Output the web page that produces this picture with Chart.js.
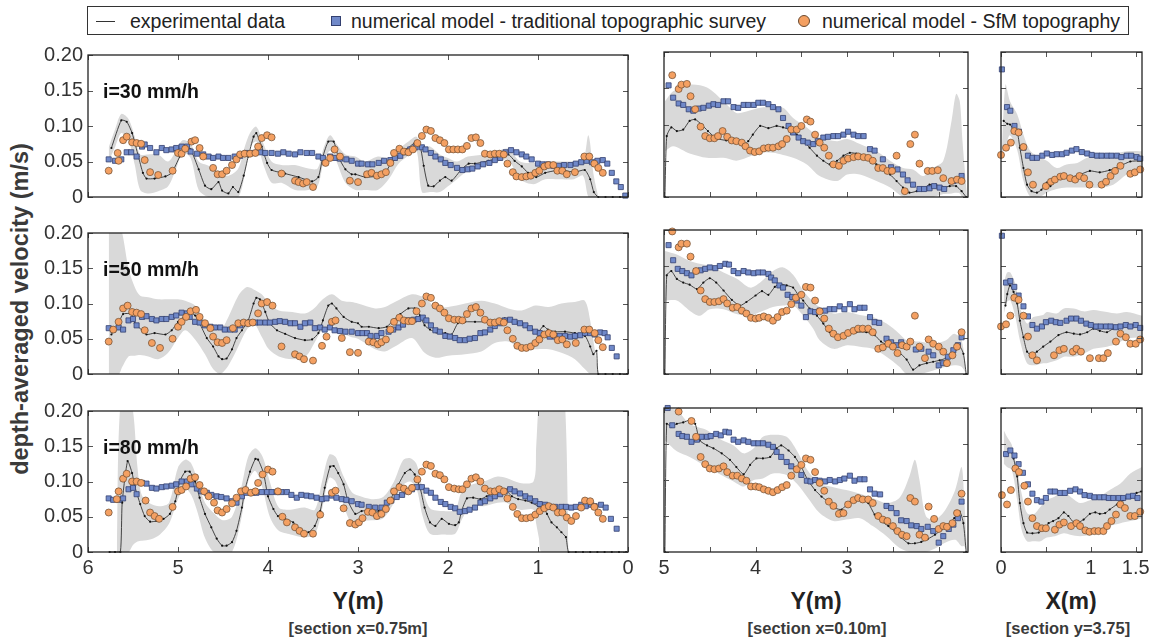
<!DOCTYPE html>
<html>
<head>
<meta charset="utf-8">
<script src="https://cdn.jsdelivr.net/npm/chart.js@4.4.1/dist/chart.umd.min.js"></script>
<style>
  body { margin: 0; background: #fff; }
  #wrap { position: relative; width: 1149px; height: 644px; overflow: hidden; font-family: "Liberation Sans", Arial, sans-serif; color: #222; }
  #legend { position: absolute; left: 87px; top: 6px; width: 1042px; height: 29px; border: 1px solid #333; box-sizing: border-box; }
  #legend span { position: absolute; top: 3px; font-size: 19.5px; line-height: 22px; white-space: nowrap; }
  .lg-line { position: absolute; left: 8px; top: 14px; width: 19px; height: 1px; background: #333; }
  .lg-sq { position: absolute; left: 243px; top: 9px; width: 8px; height: 8px; background: #7089c9; border: 1px solid #334070; }
  .lg-ci { position: absolute; left: 710px; top: 8px; width: 10px; height: 10px; border-radius: 50%; background: #f4a062; border: 1px solid #6a4a30; }
  .ylab { position: absolute; left: 20px; top: 309px; transform: translate(-50%, -50%) rotate(-90deg); font-weight: bold; font-size: 23.5px; white-space: nowrap; color: #3a3a3a; }
  .xt { position: absolute; transform: translateX(-50%); font-weight: bold; white-space: nowrap; }
  .xt.big { font-size: 23px; top: 588px; color: #222; }
  .xt.small { font-size: 16.5px; top: 619px; color: #3a3a3a; }
</style>
</head>
<body>
<div id="wrap">
  <div id="legend">
    <div class="lg-line"></div><span style="left:42px">experimental data</span>
    <div class="lg-sq"></div><span style="left:263px">numerical model - traditional topographic survey</span>
    <div class="lg-ci"></div><span style="left:734px">numerical model - SfM topography</span>
  </div>
  <div class="ylab">depth-averaged velocity (m/s)</div>
  <div class="xt big" style="left:358px">Y(m)</div>
  <div class="xt small" style="left:358px">[section x=0.75m]</div>
  <div class="xt big" style="left:816px">Y(m)</div>
  <div class="xt small" style="left:817px">[section x=0.10m]</div>
  <div class="xt big" style="left:1071px">X(m)</div>
  <div class="xt small" style="left:1068px">[section y=3.75]</div>
</div>
<script>
// tick values
const yTicks = [0, 0.05, 0.1, 0.15, 0.2];
const xTicksX075 = [0, 1, 2, 3, 4, 5, 6];
const xTicksX010 = [2, 2.5, 3, 3.5, 4, 4.5, 5];
const xTicksY375 = [0, 0.5, 1, 1.5];

// ---- i = 30 mm/h ----
const exp30_x075 = [[5.74,.069],[5.63,.108],[5.57,.106],[5.51,.09],[5.44,.057],[5.39,.034],[5.35,.026],[5.26,.026],[5.14,.029],[5.07,.034],[4.98,.057],[4.92,.071],[4.86,.067],[4.77,.039],[4.70,.016],[4.63,.011],[4.55,.021],[4.51,.009],[4.44,.005],[4.39,.014],[4.33,.007],[4.27,.03],[4.22,.057],[4.16,.085],[4.13,.09],[4.07,.071],[4.01,.048],[3.96,.038],[3.81,.033],[3.66,.028],[3.51,.022],[3.44,.028],[3.39,.057],[3.33,.078],[3.27,.078],[3.22,.057],[3.14,.039],[3.07,.032],[3.03,.032],[2.92,.028],[2.81,.029],[2.70,.034],[2.63,.048],[2.55,.057],[2.46,.067],[2.37,.076],[2.31,.071],[2.27,.044],[2.22,.016],[2.16,.015],[2.09,.023],[2.03,.028],[1.96,.023],[1.85,.039],[1.77,.047],[1.70,.047],[1.55,.051],[1.40,.057],[1.33,.06],[1.26,.051],[1.18,.043],[1.11,.034],[1.02,.028],[0.92,.034],[0.81,.037],[0.70,.037],[0.59,.035],[0.48,.038],[0.42,.025],[0.38,.007],[0.33,0],[0.25,0],[0.17,0],[0.09,0],[0.01,0]];
const band30_x075 = [[5.77,.05,.07],[5.7,.07,.095],[5.63,.09,.117],[5.55,.08,.11],[5.48,.045,.085],[5.42,.01,.06],[5.33,.005,.06],[5.22,.008,.06],[5.11,.015,.05],[5.02,.04,.065],[4.95,.062,.08],[4.86,.055,.075],[4.77,.01,.05],[4.66,0,.044],[4.55,0,.035],[4.44,0,.03],[4.33,0,.04],[4.26,.03,.07],[4.2,.07,.09],[4.13,.078,.099],[4.05,.045,.075],[3.96,.02,.05],[3.85,.02,.045],[3.7,.01,.045],[3.55,.01,.04],[3.45,.015,.04],[3.38,.05,.07],[3.31,.065,.087],[3.24,.05,.075],[3.14,.02,.06],[3.03,.01,.057],[2.92,.01,.05],[2.78,.01,.057],[2.66,.025,.055],[2.55,.047,.067],[2.44,.058,.078],[2.35,.065,.085],[2.29,.007,.071],[2.2,.007,.071],[2.09,.007,.06],[2.0,.015,.055],[1.9,.025,.05],[1.78,.037,.057],[1.6,.043,.06],[1.45,.05,.065],[1.33,.052,.068],[1.2,.025,.05],[1.05,.018,.048],[0.92,.025,.05],[0.75,.025,.05],[0.6,.025,.05],[0.5,.03,.05],[0.44,0,.087],[0.38,0,.03],[0.33,0,0]];
const trad30_x075 = [[5.77,.053],[5.70,.051],[5.63,.053],[5.57,.063],[5.52,.063],[5.46,.057],[5.40,.071],[5.37,.074],[5.31,.069],[5.24,.063],[5.18,.069],[5.13,.066],[5.07,.067],[5.02,.069],[4.96,.071],[4.90,.071],[4.86,.064],[4.79,.061],[4.72,.060],[4.66,.057],[4.61,.055],[4.55,.057],[4.50,.055],[4.44,.055],[4.37,.057],[4.31,.058],[4.24,.062],[4.16,.062],[4.09,.063],[4.03,.062],[3.96,.062],[3.89,.061],[3.83,.063],[3.77,.061],[3.70,.060],[3.64,.063],[3.57,.062],[3.51,.062],[3.44,.057],[3.39,.055],[3.31,.057],[3.26,.055],[3.20,.054],[3.13,.053],[3.07,.051],[3.0,.047],[2.96,.047],[2.89,.046],[2.84,.046],[2.77,.048],[2.71,.051],[2.64,.052],[2.59,.055],[2.53,.058],[2.48,.063],[2.42,.067],[2.36,.070],[2.29,.070],[2.25,.067],[2.19,.062],[2.14,.057],[2.08,.053],[2.03,.048],[1.97,.045],[1.90,.041],[1.84,.038],[1.78,.039],[1.73,.040],[1.67,.043],[1.61,.046],[1.54,.048],[1.48,.052],[1.42,.055],[1.36,.063],[1.30,.066],[1.24,.063],[1.18,.060],[1.13,.057],[1.07,.053],[1.0,.047],[0.95,.046],[0.89,.046],[0.83,.044],[0.77,.044],[0.71,.045],[0.64,.045],[0.58,.047],[0.52,.049],[0.46,.051],[0.40,.049],[0.34,.051],[0.28,.052],[0.23,.047],[0.18,.034],[0.13,.022],[0.08,.014],[0.03,.002]];
const sfm30_x075 = [[5.77,.037],[5.67,.062],[5.66,.051],[5.61,.080],[5.57,.085],[5.51,.077],[5.46,.076],[5.41,.075],[5.37,.052],[5.31,.035],[5.22,.031],[5.06,.037],[5.0,.062],[4.96,.061],[4.92,.068],[4.85,.078],[4.81,.080],[4.76,.069],[4.72,.057],[4.61,.041],[4.56,.032],[4.51,.032],[4.46,.037],[4.40,.045],[4.35,.053],[4.31,.060],[4.26,.061],[4.20,.061],[4.14,.062],[4.11,.071],[4.07,.083],[4.01,.087],[3.96,.084],[3.85,.033],[3.70,.023],[3.66,.021],[3.61,.019],[3.57,.021],[3.50,.014],[3.36,.048],[3.31,.055],[3.26,.067],[3.20,.057],[3.09,.023],[3.0,.021],[2.90,.032],[2.85,.034],[2.79,.030],[2.74,.032],[2.69,.035],[2.64,.048],[2.60,.062],[2.54,.068],[2.49,.064],[2.44,.063],[2.39,.067],[2.34,.076],[2.29,.086],[2.24,.095],[2.19,.093],[2.14,.083],[2.09,.080],[2.04,.076],[1.99,.067],[1.94,.067],[1.89,.067],[1.84,.067],[1.79,.072],[1.74,.083],[1.69,.084],[1.64,.076],[1.59,.061],[1.53,.060],[1.48,.061],[1.43,.061],[1.38,.060],[1.34,.047],[1.28,.035],[1.24,.029],[1.18,.028],[1.13,.029],[1.08,.030],[1.03,.034],[0.985,.037],[0.93,.043],[0.885,.045],[0.83,.045],[0.785,.037],[0.73,.037],[0.68,.032],[0.59,.035],[0.485,.057],[0.43,.057],[0.374,.047],[0.33,.041],[0.28,.034]];

const exp30_x010 = [[4.99,0],[4.97,.084],[4.92,.096],[4.86,.091],[4.79,.093],[4.72,.105],[4.66,.107],[4.59,.1],[4.52,.091],[4.43,.081],[4.32,.078],[4.21,.077],[4.13,.072],[4.08,.077],[4.03,.086],[3.95,.098],[3.86,.095],[3.77,.098],[3.70,.096],[3.63,.093],[3.55,.086],[3.48,.078],[3.41,.068],[3.33,.057],[3.26,.05],[3.19,.045],[3.11,.05],[3.04,.057],[2.97,.061],[2.90,.06],[2.82,.057],[2.75,.05],[2.68,.045],[2.61,.04],[2.53,.031],[2.46,.022],[2.39,.013],[2.32,.006],[2.24,.008],[2.17,.011],[2.1,.017],[2.03,.017],[1.95,.013],[1.88,.015],[1.81,.015],[1.75,.008],[1.70,0]];
const band30_x010 = [[4.99,.063,.132],[4.90,.07,.146],[4.72,.06,.155],[4.53,.054,.151],[4.35,.054,.132],[4.21,.05,.116],[4.10,.054,.118],[3.95,.061,.123],[3.81,.061,.124],[3.70,.058,.123],[3.59,.054,.109],[3.44,.045,.096],[3.30,.029,.082],[3.11,.022,.077],[3.0,.031,.08],[2.86,.031,.073],[2.68,.022,.063],[2.53,.013,.05],[2.39,0,.04],[2.28,0,.038],[2.17,0,.029],[2.06,0,.04],[1.95,.004,.05],[1.86,.005,.105],[1.81,.006,.142],[1.77,.005,.132],[1.74,0,.077],[1.69,0,0]];
const trad30_x010 = [[4.95,.154],[4.9,.137],[4.84,.129],[4.79,.127],[4.73,.121],[4.68,.119],[4.62,.122],[4.57,.123],[4.51,.126],[4.46,.128],[4.41,.127],[4.35,.132],[4.30,.132],[4.24,.124],[4.19,.123],[4.13,.127],[4.08,.127],[4.02,.127],[3.97,.13],[3.92,.13],[3.86,.128],[3.81,.124],[3.75,.121],[3.70,.109],[3.64,.098],[3.59,.089],[3.53,.082],[3.48,.077],[3.43,.075],[3.37,.073],[3.32,.077],[3.26,.082],[3.21,.083],[3.15,.084],[3.10,.084],[3.04,.086],[2.99,.09],[2.93,.086],[2.88,.084],[2.82,.084],[2.75,.066],[2.70,.064],[2.61,.052],[2.52,.041],[2.45,.038],[2.39,.031],[2.34,.023],[2.28,.017],[2.21,.011],[2.16,.011],[2.10,.012],[2.05,.015],[1.99,.013],[1.94,.011],[1.84,.022],[1.75,.029]];
const sfm30_x010 = [[4.91,.168],[4.84,.149],[4.81,.155],[4.75,.156],[4.71,.139],[4.66,.121],[4.6,.097],[4.55,.084],[4.5,.081],[4.45,.081],[4.41,.084],[4.36,.091],[4.31,.083],[4.26,.078],[4.21,.077],[4.15,.075],[4.11,.07],[4.06,.064],[4.01,.062],[3.96,.063],[3.91,.067],[3.86,.068],[3.81,.068],[3.75,.07],[3.71,.073],[3.66,.08],[3.61,.093],[3.55,.093],[3.5,.098],[3.44,.107],[3.4,.104],[3.35,.086],[3.3,.075],[3.25,.068],[3.2,.057],[3.15,.045],[3.09,.043],[3.04,.05],[2.99,.053],[2.93,.055],[2.88,.056],[2.82,.055],[2.77,.054],[2.72,.05],[2.66,.04],[2.61,.04],[2.56,.036],[2.51,.036],[2.46,.057],[2.37,.008],[2.31,.073],[2.26,.086],[2.21,.046],[2.12,.036],[2.07,.036],[2.01,.037],[1.95,.026],[1.86,.022],[1.8,.024],[1.75,.022]];

const exp30_y375 = [[0.03,.105],[0.07,.101],[0.1,.1],[0.14,.093],[0.18,.09],[0.21,.068],[0.25,.04],[0.29,.017],[0.34,.008],[0.4,.006],[0.45,.01],[0.51,.02],[0.55,.015],[0.66,.027],[0.77,.027],[0.88,.031],[0.99,.036],[1.1,.034],[1.21,.037],[1.33,.043],[1.44,.049],[1.55,.05]];
const band30_y375 = [[0.01,.06,.063],[0.05,.07,.155],[0.1,.085,.132],[0.18,.065,.114],[0.25,.022,.086],[0.33,0,.063],[0.44,.001,.054],[0.51,.006,.05],[0.62,.011,.04],[0.73,.013,.045],[0.85,.013,.047],[0.96,.013,.054],[1.11,.013,.056],[1.25,.017,.059],[1.4,.031,.063],[1.57,.04,.063]];
const trad30_y375 = [[0.01,.176],[0.067,.124],[0.104,.119],[0.15,.098],[0.2,.09],[0.25,.068],[0.3,.057],[0.35,.054],[0.4,.054],[0.46,.057],[0.51,.06],[0.57,.058],[0.62,.059],[0.68,.059],[0.73,.061],[0.79,.064],[0.84,.066],[0.9,.062],[0.96,.06],[1.01,.058],[1.07,.057],[1.12,.057],[1.18,.057],[1.23,.057],[1.29,.057],[1.34,.055],[1.4,.057],[1.45,.057],[1.51,.055],[1.55,.053]];
const sfm30_y375 = [[0.0,.058],[0.056,.068],[0.11,.075],[0.148,.091],[0.196,.089],[0.25,.069],[0.3,.034],[0.356,.017],[0.5,.015],[0.556,.021],[0.6,.024],[0.66,.028],[0.7,.029],[0.77,.026],[0.826,.024],[0.874,.029],[0.926,.026],[0.985,.017],[1.12,.017],[1.17,.021],[1.22,.029],[1.27,.036],[1.33,.043],[1.44,.032],[1.49,.034],[1.55,.038]];

// ---- i = 50 mm/h ----
const exp50_x075 = [[5.74,.056],[5.66,.072],[5.61,.085],[5.52,.085],[5.48,.072],[5.40,.062],[5.35,.056],[5.26,.058],[5.14,.056],[5.07,.062],[5.0,.074],[4.92,.083],[4.86,.087],[4.81,.083],[4.76,.072],[4.68,.051],[4.61,.039],[4.55,.025],[4.51,.021],[4.46,.022],[4.40,.035],[4.35,.051],[4.29,.062],[4.22,.076],[4.16,.1],[4.13,.108],[4.09,.106],[4.03,.088],[3.98,.072],[3.90,.062],[3.81,.057],[3.70,.051],[3.59,.048],[3.51,.049],[3.44,.058],[3.39,.076],[3.33,.097],[3.29,.1],[3.24,.093],[3.16,.081],[3.07,.074],[3.0,.072],[2.96,.067],[2.88,.067],[2.77,.065],[2.68,.067],[2.61,.076],[2.53,.085],[2.44,.093],[2.37,.093],[2.31,.083],[2.26,.069],[2.20,.063],[2.13,.059],[2.03,.058],[1.96,.056],[1.89,.072],[1.81,.074],[1.70,.074],[1.59,.074],[1.48,.074],[1.37,.079],[1.29,.076],[1.22,.072],[1.14,.067],[1.07,.063],[0.997,.06],[0.94,.068],[0.89,.063],[0.81,.06],[0.70,.06],[0.59,.058],[0.478,.054],[0.42,.039],[0.385,.028],[0.35,.033],[0.33,0],[0.25,0],[0.17,0],[0.09,0],[0.01,0]];
const band50_x075 = [[5.77,0,.21],[5.66,0,.21],[5.62,.01,.2],[5.55,.025,.15],[5.48,.026,.123],[5.42,.027,.111],[5.33,.025,.109],[5.22,.021,.106],[5.11,.03,.106],[5.0,.051,.106],[4.92,.062,.104],[4.81,.049,.097],[4.70,.028,.076],[4.61,.007,.069],[4.53,0,.062],[4.44,.012,.081],[4.33,.039,.111],[4.24,.062,.123],[4.16,.072,.12],[4.07,.053,.113],[3.99,.035,.1],[3.88,.025,.09],[3.73,.021,.088],[3.58,.025,.086],[3.48,.045,.094],[3.40,.062,.105],[3.29,.069,.113],[3.18,.058,.104],[3.07,.052,.102],[3.0,.05,.1],[2.81,.035,.093],[2.70,.032,.095],[2.59,.039,.102],[2.40,.051,.113],[2.26,.03,.108],[2.14,.023,.095],[2.0,.026,.095],[1.81,.028,.1],[1.63,.032,.104],[1.48,.044,.1],[1.33,.046,.093],[1.18,.035,.09],[1.03,.035,.097],[0.88,.035,.095],[0.74,.03,.1],[0.59,.021,.102],[0.48,.007,.104],[0.42,0,.076],[0.37,0,.035],[0.33,0,0]];
const trad50_x075 = [[5.77,.065],[5.72,.063],[5.66,.066],[5.61,.063],[5.55,.076],[5.50,.078],[5.46,.069],[5.40,.081],[5.35,.082],[5.29,.078],[5.24,.076],[5.18,.078],[5.13,.078],[5.07,.081],[5.02,.083],[4.96,.087],[4.90,.086],[4.87,.081],[4.81,.074],[4.76,.073],[4.70,.069],[4.64,.067],[4.59,.066],[4.53,.066],[4.48,.063],[4.42,.063],[4.37,.063],[4.31,.069],[4.26,.072],[4.20,.073],[4.14,.073],[4.09,.073],[4.03,.073],[3.98,.073],[3.92,.074],[3.87,.075],[3.81,.074],[3.75,.072],[3.70,.072],[3.64,.067],[3.59,.072],[3.53,.073],[3.48,.065],[3.42,.066],[3.37,.063],[3.31,.066],[3.26,.062],[3.20,.061],[3.14,.06],[3.07,.06],[3.0,.058],[2.95,.058],[2.90,.058],[2.86,.054],[2.79,.054],[2.74,.058],[2.66,.06],[2.61,.063],[2.55,.066],[2.50,.07],[2.44,.076],[2.38,.077],[2.33,.078],[2.28,.080],[2.24,.076],[2.19,.069],[2.14,.062],[2.09,.06],[2.03,.054],[1.98,.053],[1.92,.051],[1.87,.048],[1.81,.048],[1.76,.05],[1.70,.051],[1.64,.058],[1.59,.059],[1.53,.063],[1.48,.068],[1.42,.072],[1.37,.076],[1.31,.077],[1.26,.074],[1.20,.072],[1.14,.069],[1.09,.065],[1.03,.06],[0.98,.058],[0.92,.056],[0.87,.053],[0.81,.053],[0.76,.054],[0.70,.054],[0.64,.053],[0.59,.054],[0.53,.055],[0.478,.058],[0.42,.058],[0.37,.056],[0.31,.059],[0.26,.058],[0.226,.052],[0.18,.037],[0.126,.025]];
const sfm50_x075 = [[5.77,.046],[5.72,.063],[5.66,.074],[5.61,.093],[5.56,.097],[5.51,.088],[5.46,.087],[5.41,.085],[5.37,.062],[5.29,.044],[5.2,.037],[5.06,.05],[5.0,.067],[4.96,.074],[4.91,.081],[4.86,.089],[4.80,.091],[4.76,.081],[4.7,.072],[4.64,.065],[4.61,.053],[4.56,.045],[4.51,.044],[4.46,.048],[4.39,.065],[4.33,.072],[4.27,.073],[4.22,.072],[4.17,.073],[4.11,.086],[4.07,.1],[4.01,.102],[3.95,.097],[3.85,.039],[3.70,.028],[3.65,.025],[3.60,.021],[3.5,.019],[3.40,.04],[3.35,.053],[3.29,.074],[3.25,.076],[3.18,.051],[3.09,.031],[3.0,.03],[2.88,.046],[2.83,.045],[2.78,.042],[2.74,.045],[2.69,.049],[2.64,.063],[2.6,.074],[2.54,.08],[2.49,.076],[2.44,.075],[2.4,.075],[2.35,.089],[2.29,.1],[2.24,.11],[2.19,.108],[2.14,.097],[2.09,.093],[2.04,.087],[1.99,.079],[1.93,.077],[1.88,.077],[1.84,.076],[1.79,.085],[1.74,.093],[1.69,.095],[1.64,.087],[1.59,.077],[1.53,.073],[1.48,.073],[1.43,.075],[1.38,.073],[1.34,.062],[1.28,.05],[1.23,.04],[1.18,.037],[1.13,.037],[1.08,.039],[1.03,.044],[0.985,.049],[0.93,.056],[0.88,.058],[0.83,.056],[0.78,.048],[0.73,.049],[0.68,.042],[0.58,.044],[0.485,.063],[0.43,.063],[0.37,.058],[0.33,.048],[0.28,.038]];

const exp50_x010 = [[4.99,0],[4.97,.137],[4.92,.143],[4.86,.132],[4.79,.127],[4.72,.124],[4.64,.118],[4.57,.127],[4.5,.133],[4.43,.127],[4.35,.116],[4.26,.103],[4.17,.095],[4.1,.1],[4.0,.109],[3.93,.115],[3.86,.11],[3.79,.121],[3.74,.125],[3.66,.123],[3.59,.12],[3.53,.109],[3.48,.102],[3.41,.091],[3.33,.081],[3.26,.07],[3.19,.058],[3.1,.051],[3.0,.056],[2.9,.058],[2.79,.058],[2.7,.054],[2.63,.045],[2.53,.038],[2.44,.031],[2.35,.02],[2.28,.006],[2.21,.012],[2.13,.015],[2.06,.017],[1.99,.019],[1.92,.022],[1.84,.028],[1.77,.038],[1.73,.028],[1.70,0]];
const band50_x010 = [[4.99,.102,.171],[4.86,.102,.166],[4.72,.088,.157],[4.61,.081,.153],[4.50,.09,.15],[4.35,.09,.141],[4.2,.083,.132],[4.06,.081,.12],[3.95,.086,.127],[3.81,.093,.143],[3.70,.095,.148],[3.59,.095,.138],[3.48,.081,.116],[3.37,.063,.1],[3.3,.047,.093],[3.15,.035,.084],[3.0,.04,.086],[2.86,.038,.082],[2.72,.035,.079],[2.57,.024,.07],[2.43,.01,.056],[2.35,0,.047],[2.21,0,.045],[2.06,.005,.042],[1.92,.01,.047],[1.83,.012,.056],[1.75,.01,.047],[1.7,0,0]];
const trad50_x010 = [[4.95,.179],[4.9,.158],[4.85,.146],[4.8,.143],[4.75,.14],[4.7,.137],[4.65,.143],[4.6,.144],[4.55,.146],[4.5,.148],[4.44,.147],[4.39,.15],[4.33,.153],[4.29,.152],[4.24,.143],[4.19,.14],[4.13,.143],[4.08,.141],[4.02,.14],[3.97,.141],[3.92,.141],[3.86,.139],[3.83,.134],[3.79,.13],[3.74,.123],[3.7,.12],[3.65,.11],[3.6,.107],[3.55,.102],[3.5,.095],[3.45,.079],[3.4,.087],[3.35,.086],[3.3,.088],[3.24,.088],[3.19,.09],[3.14,.09],[3.08,.094],[3.03,.09],[2.97,.097],[2.92,.09],[2.86,.092],[2.81,.092],[2.75,.079],[2.7,.072],[2.65,.071],[2.57,.049],[2.52,.044],[2.46,.04],[2.41,.044],[2.35,.038],[2.25,.034],[2.19,.035],[2.11,.031],[2.06,.026],[2.0,.012],[1.95,.015],[1.9,.024],[1.84,.033],[1.79,.04],[1.75,.051]];
const sfm50_x010 = [[4.91,.198],[4.84,.176],[4.81,.181],[4.75,.181],[4.71,.163],[4.65,.143],[4.6,.116],[4.55,.104],[4.5,.1],[4.45,.1],[4.4,.101],[4.35,.104],[4.31,.098],[4.25,.092],[4.2,.093],[4.15,.088],[4.1,.084],[4.05,.078],[4.0,.077],[3.96,.078],[3.91,.08],[3.86,.078],[3.81,.074],[3.76,.079],[3.71,.086],[3.66,.088],[3.61,.097],[3.56,.106],[3.5,.11],[3.45,.121],[3.4,.12],[3.35,.102],[3.3,.087],[3.25,.077],[3.2,.063],[3.15,.056],[3.1,.051],[3.04,.053],[2.99,.057],[2.93,.06],[2.88,.063],[2.83,.063],[2.77,.063],[2.72,.058],[2.66,.035],[2.61,.037],[2.55,.042],[2.5,.038],[2.45,.029],[2.4,.04],[2.35,.038],[2.31,.045],[2.26,.081],[2.21,.038],[2.15,.022],[2.11,.048],[2.06,.042],[2.0,.038],[1.95,.031],[1.91,.015],[1.85,.026],[1.8,.038],[1.75,.058]];

const exp50_y375 = [[0.05,.095],[0.07,.111],[0.1,.123],[0.14,.114],[0.18,.098],[0.21,.074],[0.25,.051],[0.29,.031],[0.34,.026],[0.4,.031],[0.47,.038],[0.55,.045],[0.64,.054],[0.73,.058],[0.81,.056],[0.88,.055],[0.96,.058],[1.03,.063],[1.1,.06],[1.18,.058],[1.25,.063],[1.33,.065],[1.4,.066],[1.47,.068],[1.55,.065]];
const band50_y375 = [[0.03,.083,.125],[0.067,.1,.141],[0.104,.102,.141],[0.16,.079,.125],[0.21,.047,.093],[0.29,.015,.07],[0.36,.012,.079],[0.47,.015,.082],[0.51,.015,.086],[0.62,.019,.084],[0.7,.024,.091],[0.81,.024,.091],[0.92,.028,.087],[1.03,.035,.089],[1.18,.038,.086],[1.29,.042,.084],[1.4,.049,.086],[1.57,.051,.081]];
const trad50_y375 = [[0.01,.192],[0.056,.127],[0.104,.129],[0.148,.121],[0.196,.109],[0.25,.094],[0.3,.08],[0.35,.068],[0.4,.063],[0.456,.066],[0.5,.072],[0.56,.074],[0.61,.072],[0.66,.071],[0.73,.074],[0.78,.077],[0.84,.077],[0.89,.074],[0.95,.07],[1.0,.068],[1.06,.066],[1.11,.066],[1.17,.066],[1.22,.066],[1.28,.065],[1.33,.066],[1.39,.068],[1.44,.066],[1.5,.068],[1.55,.064]];
const sfm50_y375 = [[0.0,.066],[0.056,.069],[0.104,.081],[0.148,.106],[0.196,.103],[0.25,.081],[0.3,.052],[0.35,.026],[0.4,.019],[0.59,.026],[0.65,.033],[0.7,.035],[0.8,.031],[0.84,.035],[0.89,.031],[0.99,.022],[1.09,.022],[1.14,.022],[1.19,.029],[1.28,.045],[1.33,.056],[1.39,.051],[1.44,.042],[1.5,.042],[1.55,.048]];

// ---- i = 80 mm/h ----
const exp80_x075 = [[5.76,0],[5.70,0],[5.64,0],[5.62,.07],[5.56,.129],[5.51,.112],[5.48,.093],[5.42,.068],[5.37,.051],[5.31,.043],[5.24,.044],[5.16,.047],[5.09,.054],[5.03,.072],[4.98,.1],[4.92,.114],[4.87,.114],[4.81,.1],[4.76,.077],[4.70,.054],[4.63,.035],[4.57,.019],[4.51,.009],[4.46,.009],[4.40,.014],[4.35,.03],[4.29,.063],[4.26,.086],[4.20,.114],[4.14,.132],[4.11,.131],[4.05,.112],[4.0,.079],[3.94,.061],[3.89,.051],[3.81,.047],[3.72,.042],[3.63,.03],[3.55,.028],[3.48,.037],[3.42,.058],[3.37,.091],[3.31,.121],[3.27,.122],[3.22,.112],[3.16,.096],[3.11,.072],[3.03,.054],[2.96,.058],[2.87,.059],[2.77,.058],[2.68,.064],[2.61,.082],[2.55,.096],[2.48,.112],[2.42,.117],[2.37,.11],[2.31,.091],[2.26,.063],[2.2,.042],[2.14,.037],[2.07,.047],[1.99,.04],[1.92,.038],[1.88,.042],[1.85,.058],[1.79,.076],[1.72,.077],[1.64,.075],[1.57,.079],[1.48,.084],[1.37,.089],[1.29,.079],[1.22,.075],[1.14,.073],[1.07,.07],[0.997,.065],[0.94,.063],[0.9,.054],[0.85,.042],[0.79,.035],[0.74,.028],[0.69,.021],[0.66,0],[0.58,0],[0.5,0],[0.42,0],[0.34,0],[0.26,0],[0.18,0],[0.1,0],[0.02,0]];
const band80_x075 = [[5.68,0,0],[5.64,0,.21],[5.55,0,.21],[5.5,.01,.2],[5.45,.015,.12],[5.4,.016,.08],[5.3,.018,.068],[5.2,.025,.065],[5.1,.04,.07],[5.0,.075,.12],[4.92,.09,.131],[4.85,.08,.125],[4.78,.055,.1],[4.7,.02,.07],[4.6,0,.055],[4.5,0,.045],[4.4,0,.05],[4.3,.045,.09],[4.22,.1,.135],[4.14,.115,.147],[4.06,.09,.135],[3.98,.05,.1],[3.88,.03,.063],[3.75,.025,.06],[3.6,.021,.063],[3.48,.025,.06],[3.4,.06,.1],[3.32,.105,.138],[3.25,.1,.135],[3.17,.07,.11],[3.07,.04,.085],[3.0,.044,.08],[2.85,.045,.075],[2.72,.048,.078],[2.6,.07,.1],[2.5,.095,.13],[2.42,.1,.133],[2.35,.09,.125],[2.28,.05,.09],[2.2,.026,.062],[2.05,.025,.058],[1.92,.026,.06],[1.85,.045,.085],[1.75,.065,.095],[1.6,.065,.1],[1.45,.07,.107],[1.35,.07,.105],[1.2,.06,.098],[1.05,.06,.1],[1.02,.04,.15],[0.99,.02,.21],[0.96,0,.21],[0.75,0,.21],[0.7,0,.21],[0.66,0,0]];
const trad80_x075 = [[5.77,.076],[5.72,.074],[5.66,.074],[5.61,.076],[5.55,.089],[5.50,.091],[5.46,.082],[5.40,.098],[5.35,.097],[5.29,.091],[5.24,.09],[5.18,.092],[5.13,.093],[5.07,.094],[5.02,.096],[4.96,.1],[4.90,.1],[4.85,.096],[4.79,.09],[4.74,.086],[4.68,.084],[4.63,.081],[4.57,.079],[4.52,.078],[4.46,.076],[4.40,.072],[4.35,.07],[4.29,.079],[4.24,.084],[4.18,.084],[4.13,.084],[4.07,.085],[4.01,.085],[3.96,.085],[3.90,.085],[3.85,.085],[3.79,.085],[3.74,.081],[3.68,.077],[3.63,.081],[3.57,.08],[3.52,.079],[3.46,.077],[3.40,.075],[3.35,.076],[3.29,.08],[3.24,.077],[3.18,.075],[3.13,.074],[3.07,.072],[3.0,.068],[2.96,.067],[2.88,.064],[2.81,.063],[2.74,.063],[2.68,.07],[2.63,.073],[2.57,.078],[2.51,.081],[2.46,.086],[2.40,.089],[2.35,.092],[2.29,.092],[2.24,.087],[2.19,.084],[2.14,.077],[2.08,.071],[2.03,.068],[1.97,.064],[1.92,.062],[1.87,.057],[1.81,.058],[1.76,.06],[1.70,.063],[1.64,.07],[1.59,.072],[1.53,.076],[1.48,.079],[1.42,.082],[1.37,.086],[1.31,.089],[1.26,.086],[1.20,.083],[1.14,.079],[1.09,.076],[1.03,.072],[0.98,.068],[0.92,.067],[0.87,.064],[0.81,.064],[0.74,.064],[0.69,.064],[0.63,.063],[0.58,.064],[0.52,.067],[0.47,.065],[0.41,.067],[0.37,.065],[0.30,.067],[0.248,.063],[0.19,.047],[0.126,.033]];
const sfm80_x075 = [[5.77,.056],[5.68,.075],[5.66,.086],[5.61,.104],[5.57,.111],[5.51,.1],[5.46,.1],[5.41,.098],[5.36,.073],[5.31,.056],[5.26,.051],[5.21,.047],[5.06,.064],[5.0,.086],[4.96,.088],[4.91,.093],[4.86,.104],[4.81,.106],[4.76,.095],[4.71,.086],[4.66,.079],[4.6,.07],[4.56,.059],[4.51,.056],[4.46,.061],[4.4,.069],[4.35,.077],[4.3,.086],[4.25,.088],[4.19,.084],[4.14,.086],[4.11,.098],[4.06,.11],[4.0,.117],[3.95,.114],[3.89,.086],[3.84,.05],[3.79,.042],[3.7,.035],[3.65,.03],[3.6,.026],[3.5,.026],[3.42,.053],[3.29,.084],[3.25,.087],[3.16,.062],[3.09,.041],[3.03,.039],[2.99,.042],[2.95,.048],[2.89,.057],[2.84,.056],[2.79,.051],[2.74,.054],[2.69,.061],[2.64,.073],[2.6,.086],[2.54,.092],[2.49,.09],[2.44,.086],[2.4,.091],[2.34,.103],[2.29,.114],[2.24,.124],[2.19,.122],[2.14,.111],[2.09,.109],[2.04,.103],[1.99,.092],[1.93,.09],[1.88,.089],[1.84,.089],[1.79,.096],[1.74,.104],[1.69,.106],[1.64,.1],[1.59,.09],[1.53,.086],[1.48,.086],[1.43,.089],[1.38,.086],[1.34,.076],[1.28,.064],[1.23,.054],[1.18,.048],[1.13,.048],[1.08,.049],[1.03,.053],[0.98,.058],[0.93,.062],[0.88,.065],[0.83,.063],[0.78,.056],[0.73,.056],[0.68,.049],[0.63,.044],[0.578,.051],[0.52,.063],[0.478,.073],[0.42,.072],[0.374,.064],[0.33,.056],[0.28,.047]];

const exp80_x010 = [[4.99,0],[4.97,.178],[4.92,.174],[4.86,.178],[4.79,.18],[4.72,.183],[4.66,.178],[4.61,.155],[4.53,.148],[4.46,.144],[4.37,.137],[4.28,.128],[4.21,.118],[4.13,.108],[4.06,.121],[3.99,.13],[3.92,.13],[3.84,.132],[3.77,.144],[3.72,.148],[3.64,.141],[3.57,.132],[3.5,.118],[3.43,.1],[3.35,.086],[3.28,.077],[3.21,.07],[3.13,.061],[3.06,.059],[2.99,.068],[2.92,.075],[2.85,.075],[2.77,.068],[2.7,.052],[2.63,.043],[2.55,.036],[2.48,.029],[2.41,.02],[2.33,.012],[2.26,.012],[2.19,.014],[2.12,.018],[2.04,.024],[1.97,.031],[1.9,.038],[1.83,.047],[1.77,.056],[1.73,.04],[1.70,0]];
const band80_x010 = [[4.99,.155,.199],[4.86,.14,.197],[4.72,.132,.178],[4.53,.118,.169],[4.39,.108,.157],[4.24,.098,.148],[4.13,.091,.137],[4.02,.1,.144],[3.92,.102,.16],[3.81,.109,.163],[3.66,.107,.16],[3.55,.095,.141],[3.44,.077,.115],[3.3,.054,.095],[3.15,.043,.09],[3.01,.045,.086],[2.86,.047,.081],[2.72,.036,.075],[2.57,.022,.068],[2.43,.006,.075],[2.32,0,.105],[2.26,0,.128],[2.21,0,.1],[2.14,0,.05],[2.04,.005,.045],[1.93,.013,.058],[1.82,.017,.086],[1.75,.008,.118],[1.72,.008,.07],[1.69,0,0]];
const trad80_x010 = [[4.96,.2],[4.91,.176],[4.84,.164],[4.8,.161],[4.75,.16],[4.7,.153],[4.64,.156],[4.59,.16],[4.53,.16],[4.49,.161],[4.43,.164],[4.38,.162],[4.33,.167],[4.29,.166],[4.24,.156],[4.19,.153],[4.13,.155],[4.08,.153],[4.02,.151],[3.97,.151],[3.92,.151],[3.86,.149],[3.81,.146],[3.77,.139],[3.72,.132],[3.66,.125],[3.61,.119],[3.55,.115],[3.5,.107],[3.44,.099],[3.4,.098],[3.35,.1],[3.3,.099],[3.24,.098],[3.19,.1],[3.13,.098],[3.08,.1],[3.03,.102],[2.97,.106],[2.92,.099],[2.86,.101],[2.81,.101],[2.75,.087],[2.7,.081],[2.64,.08],[2.57,.064],[2.52,.061],[2.46,.054],[2.41,.044],[2.35,.043],[2.3,.037],[2.24,.036],[2.19,.032],[2.12,.035],[2.06,.029],[2.0,.013],[1.95,.022],[1.89,.032],[1.84,.038],[1.79,.047],[1.75,.07]];
const sfm80_x010 = [[4.84,.195],[4.7,.182],[4.65,.16],[4.6,.132],[4.55,.122],[4.5,.116],[4.45,.115],[4.4,.116],[4.35,.119],[4.31,.111],[4.25,.106],[4.2,.106],[4.15,.102],[4.1,.099],[4.05,.091],[4.0,.091],[3.96,.09],[3.91,.087],[3.86,.085],[3.81,.083],[3.76,.086],[3.71,.09],[3.66,.093],[3.61,.106],[3.55,.115],[3.5,.121],[3.45,.13],[3.4,.128],[3.35,.111],[3.3,.096],[3.25,.085],[3.2,.07],[3.15,.064],[3.09,.053],[3.04,.054],[2.99,.066],[2.93,.072],[2.88,.075],[2.83,.073],[2.77,.073],[2.72,.068],[2.66,.05],[2.61,.045],[2.56,.043],[2.5,.036],[2.45,.029],[2.4,.024],[2.35,.022],[2.31,.075],[2.26,.07],[2.21,.024],[2.15,.02],[2.11,.063],[2.05,.046],[2.0,.032],[1.95,.036],[1.91,.035],[1.85,.04],[1.8,.054],[1.75,.081]];

const exp80_y375 = [[0.067,.134],[0.104,.142],[0.14,.13],[0.18,.105],[0.21,.068],[0.25,.04],[0.29,.027],[0.35,.026],[0.42,.027],[0.47,.031],[0.53,.04],[0.58,.043],[0.64,.047],[0.7,.055],[0.75,.05],[0.81,.041],[0.86,.041],[0.92,.045],[0.99,.053],[1.05,.055],[1.1,.053],[1.16,.054],[1.21,.059],[1.29,.066],[1.36,.072],[1.44,.079],[1.51,.082],[1.56,.084]];
const band80_y375 = [[0.03,.123,.169],[0.067,.118,.16],[0.12,.114,.149],[0.18,.072,.114],[0.23,.031,.081],[0.29,.015,.054],[0.36,.015,.052],[0.44,.015,.063],[0.51,.02,.072],[0.6,.022,.077],[0.7,.026,.086],[0.77,.024,.077],[0.88,.022,.068],[0.99,.024,.072],[1.1,.031,.077],[1.21,.036,.086],[1.33,.04,.095],[1.44,.043,.109],[1.57,.047,.118]];
const trad80_y375 = [[0.056,.136],[0.104,.141],[0.15,.134],[0.196,.122],[0.244,.11],[0.3,.094],[0.35,.081],[0.4,.072],[0.45,.07],[0.5,.075],[0.55,.084],[0.6,.084],[0.66,.082],[0.71,.082],[0.77,.085],[0.83,.087],[0.88,.084],[0.93,.079],[0.99,.078],[1.04,.076],[1.1,.076],[1.15,.076],[1.2,.075],[1.25,.075],[1.31,.075],[1.36,.075],[1.42,.077],[1.47,.078],[1.52,.075]];
const sfm80_y375 = [[0.01,.079],[0.067,.066],[0.11,.086],[0.16,.116],[0.2,.111],[0.26,.092],[0.3,.07],[0.35,.047],[0.4,.036],[0.456,.033],[0.5,.033],[0.6,.031],[0.65,.038],[0.7,.041],[0.78,.036],[0.84,.04],[0.88,.036],[0.94,.03],[0.985,.028],[1.04,.029],[1.085,.029],[1.14,.029],[1.18,.036],[1.23,.043],[1.28,.052],[1.33,.066],[1.38,.061],[1.44,.05],[1.49,.05],[1.55,.056]];

// layout of the 3x3 grid (plot-area pixel boxes)
const FONT = '"Liberation Sans", Arial, sans-serif';
const cols = [
  { left: 88, right: 628, min: 0, max: 6, reverse: true, ticks: xTicksX075, label: v => String(v) },
  { left: 664, right: 968, min: 1.68, max: 5, reverse: true, ticks: xTicksX010, label: v => Number.isInteger(v) ? String(v) : '' },
  { left: 1001, right: 1142, min: 0, max: 1.57, reverse: false, ticks: xTicksY375, label: v => v === 0.5 ? '' : String(v) }
];
const rows = [
  { top: 52, bottom: 197, rain: 'i=30 mm/h' },
  { top: 230, bottom: 374, rain: 'i=50 mm/h' },
  { top: 408, bottom: 552, rain: 'i=80 mm/h' }
];
const panels = [
  [exp30_x075, band30_x075, trad30_x075, sfm30_x075],
  [exp30_x010, band30_x010, trad30_x010, sfm30_x010],
  [exp30_y375, band30_y375, trad30_y375, sfm30_y375],
  [exp50_x075, band50_x075, trad50_x075, sfm50_x075],
  [exp50_x010, band50_x010, trad50_x010, sfm50_x010],
  [exp50_y375, band50_y375, trad50_y375, sfm50_y375],
  [exp80_x075, band80_x075, trad80_x075, sfm80_x075],
  [exp80_x010, band80_x010, trad80_x010, sfm80_x010],
  [exp80_y375, band80_y375, trad80_y375, sfm80_y375]
];

// frame with inward ticks + rain label
const frame = {
  id: 'frame',
  afterDatasetsDraw(chart, args, opts) {
    const { ctx, chartArea: a, scales: { x, y } } = chart;
    ctx.save();
    ctx.strokeStyle = '#555';
    ctx.lineWidth = 1;
    ctx.beginPath();
    x.ticks.forEach(t => {
      const px = Math.round(x.getPixelForValue(t.value)) + 0.5;
      ctx.moveTo(px, a.top); ctx.lineTo(px, a.top + 5);
      ctx.moveTo(px, a.bottom); ctx.lineTo(px, a.bottom - 5);
    });
    y.ticks.forEach(t => {
      const py = Math.round(y.getPixelForValue(t.value)) + 0.5;
      ctx.moveTo(a.left, py); ctx.lineTo(a.left + 5, py);
      ctx.moveTo(a.right, py); ctx.lineTo(a.right - 5, py);
    });
    ctx.stroke();
    ctx.strokeStyle = '#222';
    ctx.lineWidth = 1.3;
    ctx.strokeRect(a.left, a.top, a.right - a.left, a.bottom - a.top);
    if (opts.label) {
      ctx.font = 'bold 19.5px ' + FONT;
      ctx.fillStyle = '#111';
      ctx.textBaseline = 'alphabetic';
      ctx.fillText(opts.label, a.left + 15, a.top + 43);
    }
    ctx.restore();
  }
};

const wrap = document.getElementById('wrap');
const L = 70, T = 14, R = 16, B = 34;
const pts = arr => arr.map(([x, y]) => ({ x, y }));

panels.forEach((p, i) => {
  const row = Math.floor(i / 3), col = i % 3;
  const c = cols[col], r = rows[row];
  const [exp, band, trad, sfm] = p;
  const w = c.right - c.left + L + R, h = r.bottom - r.top + T + B;
  const cv = document.createElement('canvas');
  cv.width = w; cv.height = h;
  cv.style.cssText = `position:absolute;left:${c.left - L}px;top:${r.top - T}px;width:${w}px;height:${h}px`;
  wrap.appendChild(cv);

  new Chart(cv, {
    type: 'scatter',
    data: {
      datasets: [
        { label: 'numerical model - SfM topography', data: pts(sfm), order: 0, clip: 10,
          pointStyle: 'circle', pointRadius: 3.5, backgroundColor: '#f4a062', borderColor: '#6a4a30', borderWidth: 0.7 },
        { label: 'numerical model - traditional topographic survey', data: pts(trad), order: 1, clip: 10,
          pointStyle: 'rect', pointRadius: 3.6, backgroundColor: '#7089c9', borderColor: '#334070', borderWidth: 0.8 },
        { type: 'line', label: 'experimental data', data: pts(exp), order: 2, clip: 3,
          borderColor: '#333', borderWidth: 0.9, tension: 0.2, pointRadius: 1.1, pointBorderWidth: 0, pointBackgroundColor: '#111' },
        { type: 'line', label: 'band hi', data: band.map(([x, lo, hi]) => ({ x, y: hi })), order: 3,
          fill: '+1', backgroundColor: '#d9d9d9', borderColor: 'rgba(0,0,0,0)', borderWidth: 0, pointRadius: 0, tension: 0.3 },
        { type: 'line', label: 'band lo', data: band.map(([x, lo]) => ({ x, y: lo })), order: 4,
          fill: false, borderColor: 'rgba(0,0,0,0)', borderWidth: 0, pointRadius: 0, tension: 0.3 }
      ]
    },
    options: {
      responsive: false,
      animation: false,
      events: [],
      layout: { padding: { left: 0, top: T, right: R, bottom: 0 } },
      plugins: { legend: { display: false }, tooltip: { enabled: false }, frame: { label: col === 0 ? r.rain : '' } },
      scales: {
        x: {
          type: 'linear', min: c.min, max: c.max, reverse: c.reverse,
          afterBuildTicks: ax => { ax.ticks = c.ticks.map(v => ({ value: v })); },
          afterFit: ax => { ax.height = B; },
          grid: { display: false, drawTicks: false }, border: { display: false },
          ticks: { display: row === 2, autoSkip: false, maxRotation: 0, padding: 4, color: '#333',
                   font: { family: FONT, size: 20 }, callback: v => c.label(v) }
        },
        y: {
          min: 0, max: 0.2,
          afterBuildTicks: ax => { ax.ticks = yTicks.map(v => ({ value: v })); },
          afterFit: ax => { ax.width = L; },
          grid: { display: false, drawTicks: false }, border: { display: false },
          ticks: { display: col === 0, padding: 5, color: '#333',
                   font: { family: FONT, size: 20 }, callback: v => v === 0 ? '0' : v.toFixed(2) }
        }
      }
    },
    plugins: [frame]
  });
});
</script>
</body>
</html>
